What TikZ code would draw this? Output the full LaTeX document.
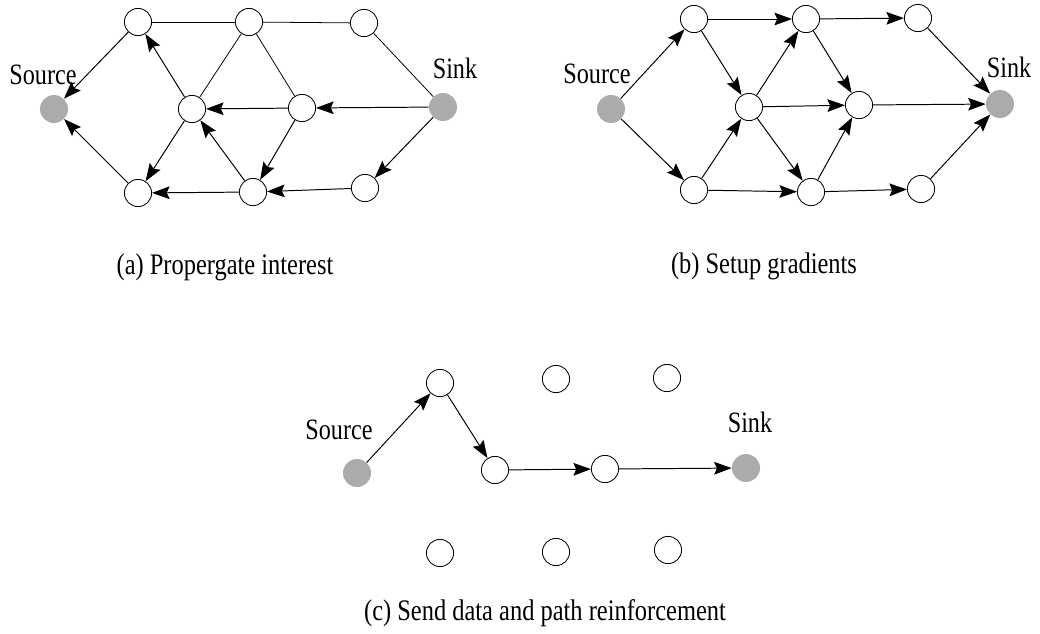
\documentclass[tikz,border=0pt]{standalone}
\usepackage{fontspec}
\setmainfont{Liberation Serif}[FakeStretch=0.82]
\usepackage{tikz}
\usetikzlibrary{arrows.meta}

\begin{document}
\begin{tikzpicture}[
  x=0.025cm, y=-0.025cm,
  font=\fontsize{21}{24}\selectfont,
  every node/.style={align=center},
  sensor/.style={draw, circle, line width=0.6pt, minimum size=0.68cm, inner sep=0pt},
  endpt/.style={circle, fill=gray!80!black!55, minimum size=0.7cm, inner sep=0pt},
  lbl/.style={anchor=base},
  link/.style={line width=0.55pt},
  arr/.style={line width=0.7pt, -{Stealth[length=12.5pt,width=9pt,inset=2pt]}},
  caption/.style={anchor=base, font=\fontsize{21.2}{24}\selectfont}
]
\useasboundingbox (0,0) rectangle (1040,633);

% (a) interest
\node[endpt] (a-src) at (54,109) {};
\node[endpt] (a-snk) at (443,107) {};
\node[sensor] (a-t1) at (138,22) {};
\node[sensor] (a-t2) at (249,22) {};
\node[sensor] (a-t3) at (364,23) {};
\node[sensor] (a-m1) at (192,109) {};
\node[sensor] (a-m2) at (302,108) {};
\node[sensor] (a-b1) at (138,193) {};
\node[sensor] (a-b2) at (253,192) {};
\node[sensor] (a-b3) at (365,188) {};
\node[lbl] (a-srclbl) at (43,84) {Source};
\node[lbl] (a-snklbl) at (455,78) {Sink};
\node[caption] (a-cap) at (225,274) {(a) Propergate interest};

\foreach \u/\v in {a-t1/a-t2, a-t2/a-t3, a-t3/a-snk, a-m1/a-t2, a-t2/a-m2}
  \draw[link] (\u) -- (\v);
\foreach \u/\v in {a-t1/a-src, a-b1/a-src, a-m1/a-t1, a-m2/a-m1, a-snk/a-m2, a-m1/a-b1,
                   a-b2/a-m1, a-m2/a-b2, a-b2/a-b1, a-snk/a-b3, a-b3/a-b2}
  \draw[arr] (\u) -- (\v);

% (b) gradients
\node[endpt] (b-src) at (611,109) {};
\node[endpt] (b-snk) at (1000,104) {};
\node[sensor] (b-t1) at (694,19) {};
\node[sensor] (b-t2) at (806,19) {};
\node[sensor] (b-t3) at (918,18) {};
\node[sensor] (b-m1) at (749,107) {};
\node[sensor] (b-m2) at (859,105) {};
\node[sensor] (b-b1) at (694,190) {};
\node[sensor] (b-b2) at (811,192) {};
\node[sensor] (b-b3) at (921,189) {};
\node[lbl] (b-srclbl) at (597,83) {Source};
\node[lbl] (b-snklbl) at (1009,77) {Sink};
\node[caption] (b-cap) at (764,273) {(b) Setup gradients};

\foreach \u/\v in {b-src/b-t1, b-src/b-b1, b-t1/b-t2, b-t2/b-t3, b-t1/b-m1, b-b1/b-m1,
                   b-b1/b-b2, b-b2/b-b3, b-m1/b-t2, b-m1/b-m2, b-m1/b-b2, b-t2/b-m2,
                   b-b2/b-m2, b-t3/b-snk, b-m2/b-snk, b-b3/b-snk}
  \draw[arr] (\u) -- (\v);

% (c) data path
\node[endpt] (c-src) at (357,473) {};
\node[endpt] (c-snk) at (746,468) {};
\node[sensor] (c-t1) at (440,383) {};
\node[sensor] (c-t2) at (556,379) {};
\node[sensor] (c-t3) at (667,378) {};
\node[sensor] (c-m1) at (495,470) {};
\node[sensor] (c-m2) at (605,469) {};
\node[sensor] (c-b1) at (440,553) {};
\node[sensor] (c-b2) at (556,552) {};
\node[sensor] (c-b3) at (668,550) {};
\node[lbl] (c-srclbl) at (339,439) {Source};
\node[lbl] (c-snklbl) at (750,432) {Sink};
\node[caption] (c-cap) at (545,620) {(c) Send data and path reinforcement};

\foreach \u/\v in {c-src/c-t1, c-t1/c-m1, c-m1/c-m2, c-m2/c-snk}
  \draw[arr] (\u) -- (\v);
\end{tikzpicture}
\end{document}
